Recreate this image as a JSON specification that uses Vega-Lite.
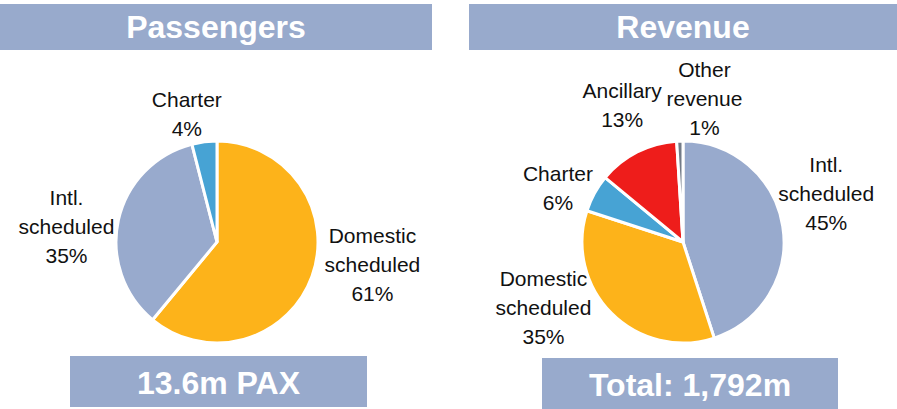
{
  "$schema": "https://vega.github.io/schema/vega-lite/v6.json",
  "padding": {"left": 0, "top": 4, "right": 0, "bottom": 0},
  "background": "white",
  "config": {
    "view": {"stroke": null},
    "font": "Liberation Sans",
    "text": {"font": "Liberation Sans"}
  },
  "datasets": {
    "pax": [
      {"seg": "Domestic scheduled", "value": 61, "idx": 1, "label": "Domestic\nscheduled\n61%"},
      {"seg": "Intl. scheduled", "value": 35, "idx": 2, "label": "Intl.\nscheduled\n35%"},
      {"seg": "Charter", "value": 4, "idx": 3, "label": "Charter\n4%"}
    ],
    "rev": [
      {"seg": "Intl. scheduled", "value": 45, "idx": 1, "label": "Intl.\nscheduled\n45%"},
      {"seg": "Domestic scheduled", "value": 35, "idx": 2, "label": "Domestic\nscheduled\n35%"},
      {"seg": "Charter", "value": 6, "idx": 3, "label": "Charter\n6%"},
      {"seg": "Ancillary", "value": 13, "idx": 4, "label": "Ancillary\n13%"},
      {"seg": "Other revenue", "value": 1, "idx": 5, "label": "Other\nrevenue\n1%"}
    ]
  },
  "spacing": 35,
  "hconcat": [
    {
      "spacing": 0,
      "vconcat": [
        {
          "spacing": 78,
          "bounds": "flush",
          "vconcat": [
            {
              "width": 432, "height": 46,
              "view": {"fill": "#98AACC", "stroke": null},
              "data": {"values": [{"t": "Passengers"}]},
              "mark": {"type": "text", "fontSize": 32, "fontWeight": "bold", "color": "white", "baseline": "middle", "align": "center", "dy": 1},
              "encoding": {"text": {"field": "t"}}
            },
            {
              "width": 434, "height": 228,
              "data": {"name": "pax"},
              "encoding": {
                "theta": {"field": "value", "type": "quantitative", "stack": true},
                "order": {"field": "idx", "type": "quantitative"}
              },
              "layer": [
                {
                  "mark": {"type": "arc", "outerRadius": 101, "stroke": "white", "strokeWidth": 3},
                  "encoding": {
                    "color": {"field": "seg", "type": "nominal", "legend": null,
                      "scale": {"domain": ["Domestic scheduled", "Intl. scheduled", "Charter", "Ancillary", "Other revenue"],
                                "range": ["#FDB31A", "#98AACD", "#47A3D4", "#EE1D1B", "#737B87"]}}
                  }
                },
                {
                  "mark": {"type": "text", "radius": 145, "dx": -12, "dy": 2.5, "fontSize": 21, "lineBreak": "\n", "lineHeight": 29, "align": "center", "baseline": "middle", "color": "#111111"},
                  "encoding": {"text": {"condition": {"test": "datum.seg === 'Charter'", "field": "label", "type": "nominal"}, "value": ""}}
                },
                {
                  "mark": {"type": "text", "radius": 145, "dx": -9, "dy": -11, "fontSize": 21, "lineBreak": "\n", "lineHeight": 29, "align": "center", "baseline": "middle", "color": "#111111"},
                  "encoding": {"text": {"condition": {"test": "datum.seg === 'Intl. scheduled'", "field": "label", "type": "nominal"}, "value": ""}}
                },
                {
                  "mark": {"type": "text", "radius": 145, "dx": 19, "dy": -54, "fontSize": 21, "lineBreak": "\n", "lineHeight": 29, "align": "center", "baseline": "middle", "color": "#111111"},
                  "encoding": {"text": {"condition": {"test": "datum.seg === 'Domestic scheduled'", "field": "label", "type": "nominal"}, "value": ""}}
                }
              ]
            }
          ]
        },
        {
          "spacing": 0,
          "bounds": "flush",
          "hconcat": [
            {
              "width": 70, "height": 51,
              "data": {"values": [{"t": ""}]},
              "mark": {"type": "text"},
              "encoding": {"text": {"field": "t"}}
            },
            {
              "width": 297, "height": 51,
              "view": {"fill": "#98AACC", "stroke": null},
              "data": {"values": [{"t": "13.6m PAX"}]},
              "mark": {"type": "text", "fontSize": 32, "fontWeight": "bold", "color": "white", "baseline": "middle", "align": "center", "dy": 2},
              "encoding": {"text": {"field": "t"}}
            }
          ]
        }
      ]
    },
    {
      "spacing": 0,
      "vconcat": [
        {
          "spacing": 78,
          "bounds": "flush",
          "vconcat": [
            {
              "width": 428, "height": 46,
              "view": {"fill": "#98AACC", "stroke": null},
              "data": {"values": [{"t": "Revenue"}]},
              "mark": {"type": "text", "fontSize": 32, "fontWeight": "bold", "color": "white", "baseline": "middle", "align": "center", "dy": 1},
              "encoding": {"text": {"field": "t"}}
            },
            {
              "width": 428, "height": 228,
              "data": {"name": "rev"},
              "encoding": {
                "theta": {"field": "value", "type": "quantitative", "stack": true},
                "order": {"field": "idx", "type": "quantitative"}
              },
              "layer": [
                {
                  "mark": {"type": "arc", "outerRadius": 101, "stroke": "white", "strokeWidth": 3},
                  "encoding": {
                    "color": {"field": "seg", "type": "nominal", "legend": null,
                      "scale": {"domain": ["Domestic scheduled", "Intl. scheduled", "Charter", "Ancillary", "Other revenue"],
                                "range": ["#FDB31A", "#98AACD", "#47A3D4", "#EE1D1B", "#737B87"]}}
                  }
                },
                {
                  "mark": {"type": "text", "radius": 145, "dx": 0, "dy": -53, "fontSize": 21, "lineBreak": "\n", "lineHeight": 29, "align": "center", "baseline": "middle", "color": "#111111"},
                  "encoding": {"text": {"condition": {"test": "datum.seg === 'Intl. scheduled'", "field": "label", "type": "nominal"}, "value": ""}}
                },
                {
                  "mark": {"type": "text", "radius": 145, "dx": -37, "dy": -65, "fontSize": 21, "lineBreak": "\n", "lineHeight": 29, "align": "center", "baseline": "middle", "color": "#111111"},
                  "encoding": {"text": {"condition": {"test": "datum.seg === 'Domestic scheduled'", "field": "label", "type": "nominal"}, "value": ""}}
                },
                {
                  "mark": {"type": "text", "radius": 145, "dx": 2, "dy": 2.5, "fontSize": 21, "lineBreak": "\n", "lineHeight": 29, "align": "center", "baseline": "middle", "color": "#111111"},
                  "encoding": {"text": {"condition": {"test": "datum.seg === 'Charter'", "field": "label", "type": "nominal"}, "value": ""}}
                },
                {
                  "mark": {"type": "text", "radius": 145, "dx": 5, "dy": -20.5, "fontSize": 21, "lineBreak": "\n", "lineHeight": 29, "align": "center", "baseline": "middle", "color": "#111111"},
                  "encoding": {"text": {"condition": {"test": "datum.seg === 'Ancillary'", "field": "label", "type": "nominal"}, "value": ""}}
                },
                {
                  "mark": {"type": "text", "radius": 145, "dx": 26, "dy": -26, "fontSize": 21, "lineBreak": "\n", "lineHeight": 29, "align": "center", "baseline": "middle", "color": "#111111"},
                  "encoding": {"text": {"condition": {"test": "datum.seg === 'Other revenue'", "field": "label", "type": "nominal"}, "value": ""}}
                }
              ]
            }
          ]
        },
        {
          "spacing": 0,
          "bounds": "flush",
          "hconcat": [
            {
              "width": 73, "height": 51,
              "data": {"values": [{"t": ""}]},
              "mark": {"type": "text"},
              "encoding": {"text": {"field": "t"}}
            },
            {
              "width": 296, "height": 51,
              "view": {"fill": "#98AACC", "stroke": null},
              "data": {"values": [{"t": "Total: 1,792m"}]},
              "mark": {"type": "text", "fontSize": 32, "fontWeight": "bold", "color": "white", "baseline": "middle", "align": "center", "dy": 2},
              "encoding": {"text": {"field": "t"}}
            }
          ]
        }
      ]
    }
  ]
}
